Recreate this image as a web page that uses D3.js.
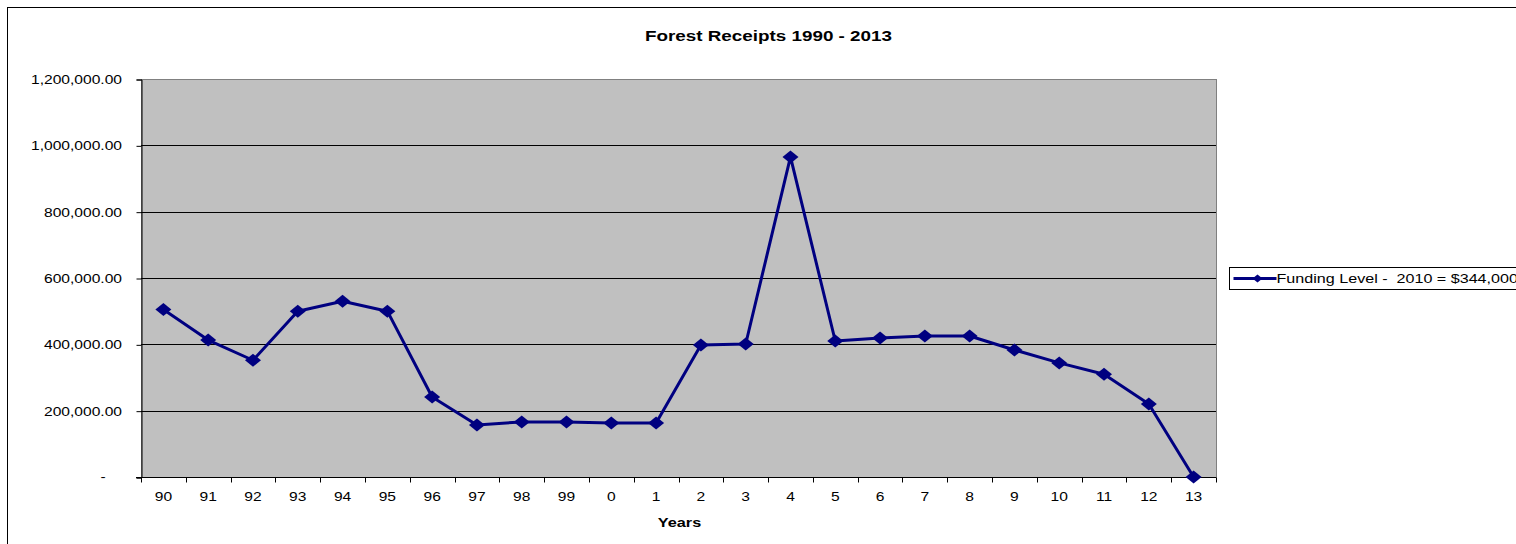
<!DOCTYPE html>
<html>
<head>
<meta charset="utf-8">
<script src="https://cdn.jsdelivr.net/npm/d3@7"></script>
<style>
  html, body { margin: 0; padding: 0; background: #fff; overflow: hidden; }
  svg { display: block; font-family: "Liberation Sans", Arial, sans-serif; }
  text { white-space: pre; }
</style>
</head>
<body>
<svg id="chart" width="1516" height="544"></svg>
<script>
// Forest receipts by year (two-digit year labels)
const years = ["90","91","92","93","94","95","96","97","98","99","0","1","2","3","4","5","6","7","8","9","10","11","12","13"];
const receipts = [505000, 413000, 352000, 500000, 530000, 500000, 241000, 157000, 166000, 166000, 163000, 163000,
                  398000, 401000, 965000, 410000, 419000, 425000, 425000, 383000, 344000, 310000, 220000, 0];
const yTicks = [0, 200000, 400000, 600000, 800000, 1000000, 1200000];
const seriesName = "Funding Level -  2010 = $344,000";
const titleText = "Forest Receipts 1990 - 2013";
const xTitle = "Years";

const svg = d3.select("#chart");
const plot = { left: 141, right: 1216, top: 79, bottom: 477 };
const navy = "#000080";
const sx = 1.3; // horizontal stretch applied to all text and markers

// text helper: places text at (x, y) with a horizontal stretch
function label(parent, x, y, str, opts = {}) {
  return parent.append("text")
    .attr("transform", `translate(${x},${y}) scale(${sx},1)`)
    .attr("text-anchor", opts.anchor || "start")
    .attr("font-size", opts.size || 12)
    .attr("font-weight", opts.weight || "normal")
    .attr("fill", "#000")
    .text(str);
}

// diamond marker stretched horizontally
function diamondPath(w, h) {
  return `M0,${-h}L${w},0L0,${h}L${-w},0Z`;
}

// outer chart frame
svg.append("rect")
  .attr("x", 7.5).attr("y", 7.5)
  .attr("width", 1530).attr("height", 560)
  .attr("fill", "#fff").attr("stroke", "#000").attr("stroke-width", 1);

const x = d3.scaleBand().domain(years).range([plot.left, plot.right]);
const y = d3.scaleLinear().domain([0, 1200000]).range([plot.bottom, plot.top]);

// plot area background
svg.append("rect")
  .attr("x", plot.left + 0.5).attr("y", plot.top + 0.5)
  .attr("width", plot.right - plot.left).attr("height", plot.bottom - plot.top)
  .attr("fill", "#C0C0C0").attr("stroke", "#808080").attr("stroke-width", 1);

// horizontal gridlines
svg.append("g").selectAll("line")
  .data(yTicks.filter(d => d > 0 && d < 1200000))
  .join("line")
  .attr("x1", plot.left).attr("x2", plot.right)
  .attr("y1", d => Math.round(y(d)) + 0.5).attr("y2", d => Math.round(y(d)) + 0.5)
  .attr("stroke", "#000").attr("stroke-width", 1);

// y axis line and ticks
const yAxis = svg.append("g")
  .attr("transform", `translate(${plot.left + 0.5},0.5)`)
  .call(d3.axisLeft(y).tickValues(yTicks).tickFormat("").tickSize(5));
yAxis.select(".domain").attr("stroke", "#000");
yAxis.selectAll(".tick line").attr("stroke", "#000");

// y tick labels
const fmt = d3.format(",.2f");
const yLabels = svg.append("g");
yTicks.forEach(d => {
  if (d === 0) {
    label(yLabels, 103, y(d) + 4, "-", { anchor: "middle" });
  } else {
    label(yLabels, 122, y(d) + 5, fmt(d), { anchor: "end" });
  }
});

// x axis: baseline and ticks between categories
const xAxisG = svg.append("g").attr("transform", `translate(0,${plot.bottom + 0.5})`);
xAxisG.append("line")
  .attr("x1", plot.left - 5).attr("x2", plot.right)
  .attr("stroke", "#000");
const boundaries = years.map(d => x(d)).concat([plot.right]);
xAxisG.selectAll("line.tk").data(boundaries).join("line")
  .attr("class", "tk")
  .attr("x1", d => Math.round(d) + 0.5).attr("x2", d => Math.round(d) + 0.5)
  .attr("y1", 0).attr("y2", 5).attr("stroke", "#000");
years.forEach(d => label(svg, x(d) + x.bandwidth() / 2, 501, d, { anchor: "middle" }));

// series line and markers
const line = d3.line()
  .x((d, i) => x(years[i]) + x.bandwidth() / 2)
  .y(d => y(d));
svg.append("path")
  .datum(receipts)
  .attr("d", line)
  .attr("fill", "none")
  .attr("stroke", navy).attr("stroke-width", 3)
  .attr("stroke-linejoin", "round");

svg.append("g").selectAll("path")
  .data(receipts)
  .join("path")
  .attr("transform", (d, i) => `translate(${x(years[i]) + x.bandwidth() / 2},${y(d)})`)
  .attr("d", diamondPath(8, 6.5))
  .attr("fill", navy);

// chart title
label(svg, 768.5, 41, titleText, { anchor: "middle", size: 14.5, weight: "bold" });

// x axis title
label(svg, 679.5, 527, xTitle, { anchor: "middle", size: 12.5, weight: "bold" });

// legend
const lg = svg.append("g").attr("transform", "translate(1229.5,267.5)");
lg.append("rect").attr("width", 320).attr("height", 22)
  .attr("fill", "#fff").attr("stroke", "#000");
lg.append("line").attr("x1", 4).attr("x2", 47).attr("y1", 11).attr("y2", 11)
  .attr("stroke", navy).attr("stroke-width", 3);
lg.append("path").attr("transform", "translate(28,11)")
  .attr("d", diamondPath(5, 4)).attr("fill", navy);
label(lg, 47, 15.5, seriesName, { size: 12.4 });
</script>
</body>
</html>
